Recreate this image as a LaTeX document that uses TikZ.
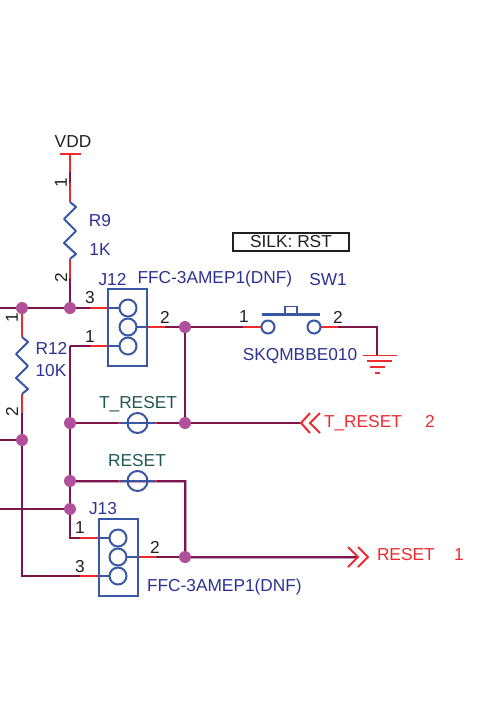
\documentclass[tikz,border=0pt]{standalone}
\usepackage{fontspec}
\setmainfont{Liberation Sans}
\usetikzlibrary{calc}
\pgfdeclarelayer{bg}
\pgfsetlayers{bg,main}
\definecolor{wirec}{HTML}{7A1648}
\definecolor{wirel}{HTML}{C79CC0}
\definecolor{redc}{HTML}{EE2A30}
\definecolor{bluec}{HTML}{3A57A5}
\definecolor{dotc}{HTML}{B0509A}
\definecolor{navyc}{HTML}{2E3192}
\definecolor{tealc}{HTML}{1F5753}
\definecolor{blackc}{HTML}{231F20}
\tikzset{
  every node/.style={inner sep=0pt,outer sep=0pt,font=\fontsize{17.3}{20}\selectfont},
  wire/.style={draw=wirec,line width=2.2pt},
  wirepale/.style={draw=wirel,line width=3pt},
  stub/.style={draw=redc,line width=2.2pt},
  blueline/.style={draw=bluec,line width=2pt},
  gndline/.style={draw=redc,line width=1.7pt},
  chevron/.style={draw=redc,line width=2pt,line join=miter},
  junction/.style={circle,fill=dotc,minimum size=12pt},
  pinc/.style={circle,draw=bluec,line width=2pt,minimum size=17pt},
  swpin/.style={circle,draw=bluec,line width=2pt,minimum size=13pt},
  tpc/.style={circle,draw=bluec,line width=2pt,minimum size=20pt},
  conn/.style={draw=bluec,line width=2pt,minimum width=39pt,minimum height=77pt},
  refdes/.style={text=navyc},
  pinno/.style={text=blackc},
  tptext/.style={text=tealc},
  nettext/.style={text=redc},
  silkbox/.style={draw=blackc,line width=1.6pt,text=blackc,minimum width=116pt,minimum height=18pt},
}
\begin{document}
\begin{tikzpicture}[x=1pt,y=-1pt]
\useasboundingbox (0,0) rectangle (493,720);
% junctions
\node[junction] (ja) at (22,308) {};
\node[junction] (jb) at (70,308) {};
\node[junction] (jc) at (185,327) {};
\node[junction] (jd) at (70,423) {};
\node[junction] (je) at (185,423) {};
\node[junction] (jf) at (22,440) {};
\node[junction] (jg) at (70,481) {};
\node[junction] (jh) at (70,509) {};
\node[junction] (ji) at (185,557) {};
% connector bodies
\node[conn] (j12) at (127.5,327) {};
\node[conn] (j13) at (118,557.5) {};
\node[pinc] (p1) at (128,308) {};
\node[pinc] (p2) at (128,327) {};
\node[pinc] (p3) at (128,346) {};
\node[pinc] (q1) at (118,538) {};
\node[pinc] (q2) at (118,557) {};
\node[pinc] (q3) at (118,576) {};
% switch
\node[swpin] (s1) at (268,327) {};
\node[swpin] (s2) at (314,327) {};
\node[draw=bluec,line width=1.6pt,minimum width=12pt,minimum height=8pt] (plg) at (291,310.5) {};
\coordinate (barl) at (262,314.5);
\coordinate (barr) at (320,314.5);
\draw[draw=bluec,line width=3pt] (barl) -- (barr);
% test points
\node[tpc] (tp1) at (137.5,423) {};
\node[tpc] (tp2) at (137.5,481) {};
% named points
\coordinate (vddl) at (60,154); \coordinate (vddr) at (81,154); \coordinate (vdd) at (70,154);
\coordinate (r9a) at (70,202); \coordinate (r9b) at (70,259);
\coordinate (r9c) at (70,172); \coordinate (r9d) at (70,183); \coordinate (r9e) at (70,278);
\coordinate (r12a) at (22,337); \coordinate (r12b) at (22,394); \coordinate (r12c) at (22,413);
\coordinate (l1) at (0,308); \coordinate (l2) at (0,440); \coordinate (l3) at (0,509);
\coordinate (c1) at (70,346);
\coordinate (c2) at (70,538);
\coordinate (c3) at (22,576);
\coordinate (gndc) at (377,327); \coordinate (gnd) at (377,355.5);
\coordinate (rstc) at (185,481);
\coordinate (tarr) at (301,423);
\coordinate (rarr) at (358,557);
\begin{pgfonlayer}{bg}
 % pale halo of the RESET net
 \draw[wirepale] (jg) -- (rstc) -- (ji) -- (rarr);
 % dark wiring
 \draw[wire] (l1) -- (jb) -- (90,308);
 \draw[wire] (r9e) -- (jb);
 \draw[wire] (c1) -- (c2) -- (80,538);
 \draw[wire] (c1) -- (90,346);
 \draw[wire] (jd) -- (118,423);
 \draw[wire] (156,423) -- (tarr);
 \draw[wire] (165,327) -- (jc) -- (243,327);
 \draw[wire] (jc) -- (je);
 \draw[wire] (338,327) -- (gndc) -- (gnd);
 \draw[draw=wirec,line width=1.7pt] (jg) -- (118,481);
 \draw[draw=wirec,line width=1.7pt] (156,481) -- (rstc) -- (ji);
 \draw[draw=wirec,line width=1.7pt] (156,557) -- (rarr);
 \draw[wire] (r12c) -- (c3) -- (80,576);
 \draw[wire] (l2) -- (jf);
 \draw[wire] (l3) -- (jh);
 \draw[wire] (r9c) -- (r9d);
 % red pin stubs
 \draw[stub] (vdd) -- (r9c); \draw[stub] (r9d) -- (r9a); \draw[stub] (r9b) -- (r9e);
 \draw[stub] (ja) -- (r12a); \draw[stub] (r12b) -- (r12c);
 \draw[stub] (90,308) -- (j12.west |- p1);
 \draw[stub] (90,346) -- (j12.west |- p3);
 \draw[stub] (j12.east |- p2) -- (165,327);
 \draw[stub] (243,327) -- (s1);
 \draw[stub] (s2) -- (338,327);
 \draw[stub] (80,538) -- (j13.west |- q1);
 \draw[stub] (80,576) -- (j13.west |- q3);
 \draw[stub] (j13.east |- q2) -- (156,557);
 % blue leads
 \draw[blueline] (j12.west |- p1) -- (p1);
 \draw[blueline] (j12.west |- p3) -- (p3);
 \draw[blueline] (p2) -- (j12.east |- p2);
 \draw[blueline] (j13.west |- q1) -- (q1);
 \draw[blueline] (j13.west |- q3) -- (q3);
 \draw[blueline] (q2) -- (j13.east |- q2);
 \draw[blueline] (118,423) -- (156,423);
 \draw[blueline] (118,481) -- (156,481);
\end{pgfonlayer}
% test point red ticks
\foreach \n/\y in {tp1/423,tp2/481}{
 \draw[draw=redc,line width=2pt] (118,\y) -- (119.5,\y);
 \draw[draw=redc,line width=2pt] (136.7,\y) -- (138.3,\y);
 \draw[draw=redc,line width=2pt] (155,\y) -- (156.5,\y);
}
% VDD bar
\draw[draw=redc,line width=1.8pt] (vddl) -- (vddr);
% resistors
\draw[blueline,line join=round] (r9a) -- (76,207) -- (64,219) -- (76,231) -- (64,243) -- (76,254) -- (r9b);
\draw[blueline,line join=round] (r12a) -- (28,342) -- (16,354) -- (28,366) -- (16,378) -- (28,389) -- (r12b);
% ground
\draw[gndline] (363,355.5) -- (397,355.5);
\draw[gndline] (367,361) -- (392,361);
\draw[gndline] (370,367) -- (385,367);
\draw[gndline] (375,373) -- (380,373);
% arrows
\draw[chevron] (310,413) -- (tarr) -- (310,433);
\draw[chevron] (320,413) -- (310,423) -- (320,433);
\draw[chevron] (348,547) -- (rarr) -- (348,567);
\draw[chevron] (358,547) -- (368,557) -- (358,567);
% texts
\node[pinno] (tvdd) at (73,141.5) {VDD};
\node[pinno,rotate=90] (t1) at (61,183) {1};
\node[pinno,rotate=90] (t2) at (61,278) {2};
\node[refdes] (tr9) at (100,220.5) {R9};
\node[refdes] (t1k) at (100,250) {1K};
\node[refdes] (tj12) at (112.5,279.5) {J12};
\node[refdes,anchor=west] (tffc1) at (137.5,279.5) {FFC-3AMEP1(DNF)};
\node[refdes] (tsw) at (328,279.5) {SW1};
\node[pinno] (t3a) at (90,298) {3};
\node[pinno] (t1a) at (90,337) {1};
\node[pinno] (t2a) at (165,317) {2};
\node[pinno,rotate=90] (t1b) at (12,318) {1};
\node[pinno,rotate=90] (t2b) at (12,412) {2};
\node[refdes] (tr12) at (51.5,348) {R12};
\node[refdes] (t10k) at (51,370.5) {10K};
\node[silkbox] (silk) at (291,242) {SILK: RST};
\node[pinno] (t1s) at (244,317) {1};
\node[pinno] (t2s) at (338,317) {2};
\node[refdes] (tsk) at (300,356) {SKQMBBE010};
\node[tptext] (ttp1) at (138,404) {T\_RESET};
\node[tptext] (ttp2) at (137,461) {RESET};
\node[refdes] (tj13) at (103,509) {J13};
\node[pinno] (t1j) at (80,528) {1};
\node[pinno] (t3j) at (80,567) {3};
\node[pinno] (t2j) at (155,547) {2};
\node[refdes,anchor=west] (tffc2) at (147,587) {FFC-3AMEP1(DNF)};
\node[nettext,anchor=west] (nt) at (324,423) {T\_RESET};
\node[nettext] (n2) at (430,421) {2};
\node[nettext,anchor=west] (nr) at (377,555) {RESET};
\node[nettext] (n1) at (459,555) {1};
\end{tikzpicture}
\end{document}
